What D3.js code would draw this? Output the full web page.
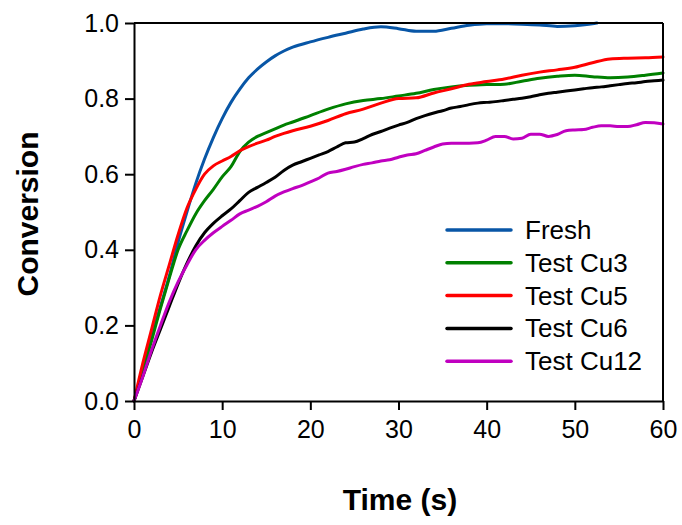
<!DOCTYPE html>
<html><head><meta charset="utf-8">
<script src="https://cdn.jsdelivr.net/npm/d3@7"></script>
<style>
html,body{margin:0;padding:0;background:#fff;}
svg{display:block;font-family:"Liberation Sans",Arial,sans-serif;}
</style></head>
<body><svg id="chart" width="682" height="525"></svg>
<script>
const seriesNames = ["Fresh","Test Cu3","Test Cu5","Test Cu6","Test Cu12"];
const seriesColors = ["#0856a6","#008000","#ff0000","#000000","#c000c0"];

const freshT = [0,1,2,3,4,5,6,7,8,9,10,11,12,13,14,15,16,17,18,20,22,24,26,28,30,32,34,36,38,40,42,44,46,48,50,52,52.5];
const freshV = [0,0.08,0.17,0.25,0.33,0.42,0.50,0.575,0.64,0.697,0.747,0.79,0.825,0.855,0.878,0.897,0.913,0.926,0.936,0.95,0.962,0.973,0.984,0.99,0.985,0.978,0.978,0.986,0.994,0.998,0.998,0.997,0.995,0.991,0.993,0.998,1.0];

const cu35T = [0,1,2,3,4,5,6,7,8,9,10,11,12,13,14,15,16,17,18,20,22,24,26,28,30,32,34,36,38,40,42,44,46,48,50,52,54,56,58,60];
const cu3V = [0,0.08,0.16,0.245,0.325,0.40,0.45,0.495,0.53,0.56,0.593,0.62,0.66,0.685,0.70,0.71,0.72,0.73,0.738,0.755,0.772,0.786,0.795,0.80,0.807,0.814,0.824,0.831,0.835,0.837,0.838,0.846,0.854,0.859,0.862,0.858,0.855,0.857,0.862,0.868];
const cu5V = [0,0.10,0.19,0.28,0.36,0.44,0.51,0.56,0.60,0.622,0.635,0.647,0.662,0.673,0.682,0.69,0.70,0.708,0.715,0.727,0.742,0.76,0.772,0.788,0.80,0.802,0.815,0.826,0.838,0.845,0.852,0.862,0.87,0.876,0.883,0.895,0.905,0.907,0.908,0.91];

const cu612T = d3.range(0, 61, 1);
const cu6V = [0,0.065,0.13,0.19,0.25,0.31,0.364,0.41,0.445,0.47,0.49,0.508,0.53,0.552,0.565,0.578,0.592,0.61,0.624,0.633,0.642,0.651,0.66,0.672,0.683,0.685,0.694,0.705,0.713,0.722,0.73,0.737,0.747,0.755,0.762,0.768,0.775,0.779,0.784,0.788,0.79,0.792,0.795,0.798,0.801,0.805,0.81,0.814,0.817,0.82,0.823,0.826,0.829,0.831,0.834,0.837,0.84,0.842,0.845,0.847,0.849];
const cu12V = [0,0.065,0.135,0.2,0.262,0.315,0.36,0.40,0.425,0.445,0.462,0.478,0.495,0.505,0.515,0.527,0.542,0.553,0.562,0.57,0.58,0.59,0.603,0.607,0.613,0.62,0.626,0.63,0.635,0.638,0.645,0.651,0.654,0.663,0.672,0.68,0.682,0.682,0.682,0.683,0.69,0.70,0.70,0.693,0.695,0.706,0.706,0.70,0.705,0.715,0.717,0.718,0.724,0.728,0.728,0.726,0.726,0.731,0.737,0.736,0.733];

const xTicks = [0,10,20,30,40,50,60];
const yTicks = [0,0.2,0.4,0.6,0.8,1.0];
const xTitle = "Time (s)";
const yTitle = "Conversion";

const series = [
  {name: seriesNames[0], color: seriesColors[0], t: freshT, v: freshV},
  {name: seriesNames[1], color: seriesColors[1], t: cu35T, v: cu3V},
  {name: seriesNames[2], color: seriesColors[2], t: cu35T, v: cu5V},
  {name: seriesNames[3], color: seriesColors[3], t: cu612T, v: cu6V},
  {name: seriesNames[4], color: seriesColors[4], t: cu612T, v: cu12V}
];

const W = 682, H = 525;
const m = {left: 134, right: 19, top: 23, bottom: 124};
const svg = d3.select("#chart");
const x = d3.scaleLinear().domain([0,60]).range([m.left, W - m.right]);
const y = d3.scaleLinear().domain([0,1]).range([H - m.bottom, m.top]);

const line = d3.line().x(d => x(d[0])).y(d => y(d[1])).curve(d3.curveMonotoneX);

const plot = svg.append("g");
series.forEach(s => {
  plot.append("path")
    .datum(s.t.map((t,i) => [t, s.v[i]]))
    .attr("fill","none").attr("stroke", s.color)
    .attr("stroke-width", 3).attr("stroke-linejoin","round").attr("stroke-linecap","round")
    .attr("d", line);
});

// frame
svg.append("line").attr("x1", x(0)).attr("x2", x(60)).attr("y1", y(1)).attr("y2", y(1))
  .attr("stroke","#000").attr("stroke-width",2);
svg.append("line").attr("x1", x(60)).attr("x2", x(60)).attr("y1", y(0)).attr("y2", y(1))
  .attr("stroke","#000").attr("stroke-width",2);

const xAxis = svg.append("g").attr("transform", `translate(0,${y(0)})`)
  .call(d3.axisBottom(x).tickValues(xTicks).tickSize(9).tickPadding(10).tickSizeOuter(0).tickFormat(d3.format("d")));
const yAxis = svg.append("g").attr("transform", `translate(${x(0)},0)`)
  .call(d3.axisLeft(y).tickValues(yTicks).tickSize(9).tickPadding(6).tickSizeOuter(0).tickFormat(d3.format(".1f")));
[xAxis, yAxis].forEach(a => {
  a.select(".domain").attr("stroke","#000").attr("stroke-width",2);
  a.selectAll(".tick line").attr("stroke","#000").attr("stroke-width",2);
  a.selectAll(".tick text").attr("fill","#000").style("font-size","25px")
    .style("font-family","'Liberation Sans', Arial, sans-serif");
});

svg.append("text").attr("x", 400).attr("y", 510).attr("text-anchor","middle")
  .style("font-size","30px").style("font-weight","bold").text(xTitle);
svg.append("text").attr("transform","translate(38,214) rotate(-90)").attr("text-anchor","middle")
  .style("font-size","30px").style("font-weight","bold").text(yTitle);

// legend
const lg = svg.append("g").attr("transform","translate(447,230)");
series.forEach((s,i) => {
  const g = lg.append("g").attr("transform", `translate(0,${i*32.8})`);
  g.append("line").attr("x1",0).attr("x2",64).attr("y1",0).attr("y2",0)
    .attr("stroke", s.color).attr("stroke-width",3.5).attr("stroke-linecap","round");
  g.append("text").attr("x",78).attr("y",9).style("font-size","26px").attr("fill","#000").text(s.name);
});
</script></body></html>
